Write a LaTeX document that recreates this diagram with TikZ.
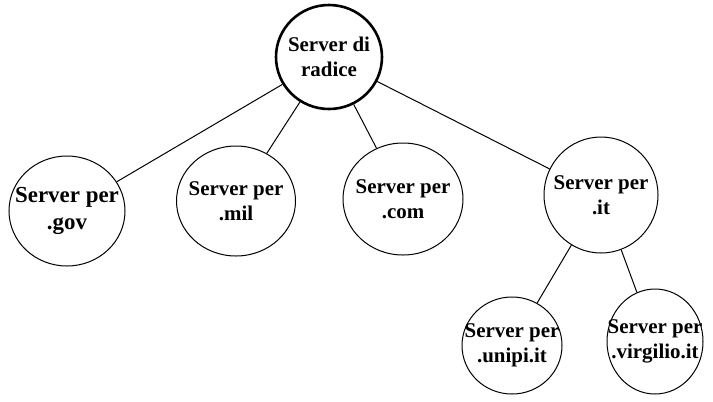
\documentclass[tikz,border=0pt]{standalone}
\usepackage{fontspec}
\setmainfont{Liberation Serif}
\usepackage{tikz}
\usetikzlibrary{shapes.geometric}

\begin{document}
\begin{tikzpicture}[x=1bp,y=-1bp,
        srv/.style={draw,ellipse,line width=1bp,inner sep=0pt},
        txt/.style={align=center,inner sep=0pt,font=\bfseries\fontsize{21}{25.5}\selectfont}]
        \useasboundingbox (0,0) rectangle (713,401);
        \node[srv,line width=2.6bp,minimum width=106bp,minimum height=104bp] (root) at (329,57) {};
        \node[srv,minimum width=116bp,minimum height=110bp] (gov) at (67,211) {};
        \node[srv,minimum width=119bp,minimum height=110bp] (mil) at (236,201) {};
        \node[srv,minimum width=120bp,minimum height=112bp] (com) at (403,199) {};
        \node[srv,minimum width=114bp,minimum height=116bp] (it) at (601,195) {};
        \node[srv,minimum width=100bp,minimum height=97bp] (unipi) at (512,345.5) {};
        \node[srv,minimum width=96bp,minimum height=105bp] (virgilio) at (655,341.5) {};
        \node[txt] (root-t) at (root) {Server di\\radice};
        \node[txt,font=\bfseries\fontsize{23}{27}\selectfont] (gov-t) at (gov) {Server per\\.gov};
        \node[txt] (mil-t) at (mil) {Server per\\.mil};
        \node[txt] (com-t) at (com) {Server per\\.com};
        \node[txt] (it-t) at (it) {Server per\\.it};
        \node[txt] (unipi-t) at (unipi) {Server per\\.unipi.it};
        \node[txt] (virgilio-t) at (virgilio) {Server per\\.virgilio.it};
        \foreach \n in {gov,mil,com,it}{
            \draw[line width=1bp] (root) -- (\n);
        }
        \draw[line width=1bp] (it) -- (unipi);
        \draw[line width=1bp] (it) -- (virgilio);
    \end{tikzpicture}
\end{document}
